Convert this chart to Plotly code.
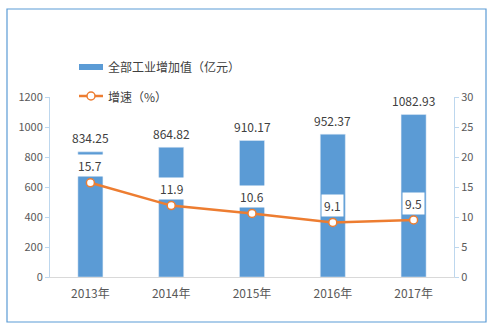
import plotly.graph_objects as go

years = ["2013年", "2014年", "2015年", "2016年", "2017年"]
value_added = [834.25, 864.82, 910.17, 952.37, 1082.93]
growth = [15.7, 11.9, 10.6, 9.1, 9.5]
bar_name = "全部工业增加值（亿元）"
line_name = "增速（%）"
left_ticks = [0, 200, 400, 600, 800, 1000, 1200]
right_ticks = [0, 5, 10, 15, 20, 25, 30]

BLUE = "#5B9BD5"
ORANGE = "#ED7D31"
TXT = "#404040"
AX = "#D9D9D9"
FONT = "Noto Sans CJK SC, Liberation Sans, sans-serif"

# plot area in pixels: x 50..454, y 97..277
def px(x):
    return (x - 50) / 404
def py(y):
    return (277 - y) / 180

fig = go.Figure()
fig.add_trace(go.Bar(
    x=years, y=value_added, name=bar_name, marker_color=BLUE, width=0.31,
    showlegend=False,
))
fig.add_trace(go.Scatter(
    x=years, y=growth, name=line_name, yaxis="y2", mode="lines+markers",
    line=dict(color=ORANGE, width=2.5),
    marker=dict(size=8, color="white", line=dict(color=ORANGE, width=1.5)),
    showlegend=False,
))

for yr, v in zip(years, value_added):
    fig.add_annotation(
        x=yr, y=v, xref="x", yref="y", text=f"{v:.2f}", showarrow=False,
        yshift=14, font=dict(size=12, color=TXT, family=FONT),
    )

for yr, g in zip(years, growth):
    fig.add_annotation(
        x=yr, y=g, xref="x", yref="y2", text=f"{g}", showarrow=False,
        yshift=17, bgcolor="white", borderpad=2,
        font=dict(size=12, color=TXT, family=FONT),
    )

# manual legend
fig.add_shape(type="rect", xref="paper", yref="paper",
              x0=px(79), x1=px(103), y0=py(70), y1=py(64),
              line=dict(width=0), fillcolor=BLUE)
fig.add_annotation(x=px(106), y=py(67), xref="paper", yref="paper",
                   text=bar_name, showarrow=False, xanchor="left",
                   yanchor="middle",
                   font=dict(size=12, color=TXT, family=FONT))
fig.add_shape(type="line", xref="paper", yref="paper",
              x0=px(79), x1=px(103), y0=py(96), y1=py(96),
              line=dict(color=ORANGE, width=2.5))
fig.add_shape(type="circle", xref="paper", yref="paper",
              x0=px(87), x1=px(95), y0=py(100), y1=py(92),
              line=dict(color=ORANGE, width=1.5), fillcolor="white")
fig.add_annotation(x=px(106), y=py(96), xref="paper", yref="paper",
                   text=line_name, showarrow=False, xanchor="left",
                   yanchor="middle",
                   font=dict(size=12, color=TXT, family=FONT))

fig.add_shape(type="rect", xref="paper", yref="paper",
              x0=px(7), x1=px(486), y0=py(322), y1=py(9),
              line=dict(color=BLUE, width=1.2), fillcolor="rgba(0,0,0,0)")

fig.update_layout(
    width=494, height=330,
    margin=dict(l=50, r=40, t=97, b=53),
    paper_bgcolor="white", plot_bgcolor="white",
    font=dict(family=FONT, color=TXT, size=12),
    showlegend=False,
    bargap=0.69,
    xaxis=dict(showline=True, linecolor=AX, linewidth=1, ticks="",
               ticklabelstandoff=6,
               tickfont=dict(size=12, color="#595959"), showgrid=False),
    yaxis=dict(range=[0, 1200], tickvals=left_ticks, showgrid=False,
               showline=True, linecolor="#BDD7EE", linewidth=1,
               ticks="outside", ticklen=4, tickcolor="#BDD7EE",
               tickfont=dict(size=11, color="#595959"), zeroline=False),
    yaxis2=dict(range=[0, 30], tickvals=right_ticks, overlaying="y", side="right",
                showgrid=False, showline=True, linecolor="#BDD7EE", linewidth=1,
                ticks="outside", ticklen=4, tickcolor="#BDD7EE",
                tickfont=dict(size=11, color="#595959"), zeroline=False),
)

fig.write_html("out.html")
